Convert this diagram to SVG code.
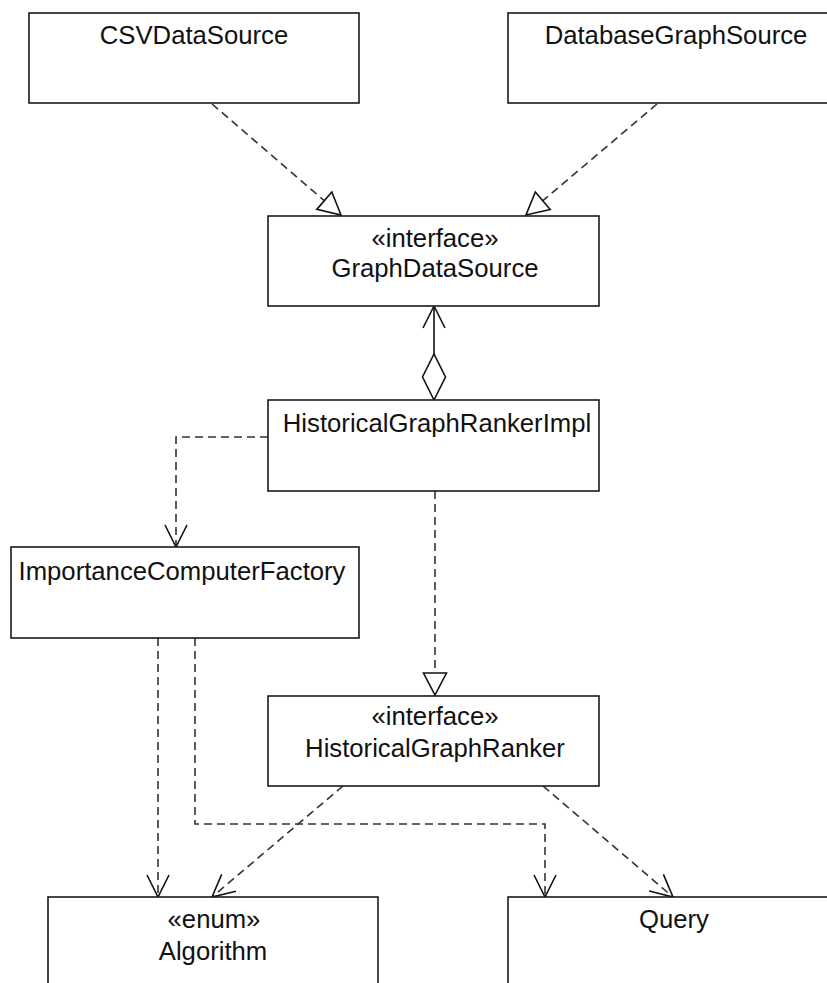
<svg xmlns="http://www.w3.org/2000/svg" width="827" height="983" viewBox="0 0 827 983">
  <style>
    .box { fill: #ffffff; stroke: #1a1a1a; stroke-width: 1.6; }
    .lbl { font-family: "Liberation Sans", Arial, sans-serif; font-size: 25.7px; fill: #111111; text-anchor: middle; }
    .dep { fill: none; stroke: #333333; stroke-width: 1.6; stroke-dasharray: 8 5; }
    .assoc { fill: none; stroke: #111111; stroke-width: 1.6; }
  </style>
  <defs>
    <!-- hollow triangle: realization -->
    <marker id="realize" markerUnits="userSpaceOnUse" markerWidth="26" markerHeight="28" viewBox="-2 -13 26 26" refX="22" refY="0" orient="auto">
      <path d="M0,-11.5 L22,0 L0,11.5 Z" fill="#ffffff" stroke="#111111" stroke-width="1.6"/>
    </marker>
    <!-- open arrowhead: dependency / navigability -->
    <marker id="open" markerUnits="userSpaceOnUse" markerWidth="26" markerHeight="28" viewBox="-2 -13 26 26" refX="22" refY="0" orient="auto">
      <path d="M0,-11 L22,0 L0,11" fill="none" stroke="#111111" stroke-width="1.6"/>
    </marker>
    <!-- hollow diamond: aggregation -->
    <marker id="diamond" markerUnits="userSpaceOnUse" markerWidth="50" markerHeight="28" viewBox="-2 -13 50 26" refX="0" refY="0" orient="auto">
      <path d="M0,0 L23,-11.5 L46,0 L23,11.5 Z" fill="#ffffff" stroke="#111111" stroke-width="1.6"/>
    </marker>
  </defs>

  <g id="connectors">
    <line class="dep" x1="212" y1="104" x2="341" y2="215" marker-end="url(#realize)"/>
    <line class="dep" x1="657" y1="104" x2="526" y2="215" marker-end="url(#realize)"/>
    <line class="assoc" x1="434" y1="400" x2="434" y2="306" marker-start="url(#diamond)" marker-end="url(#open)"/>
    <polyline class="dep" points="268,437 176,437 176,547" marker-end="url(#open)"/>
    <line class="dep" x1="435" y1="491" x2="435" y2="695" marker-end="url(#realize)"/>
    <line class="dep" x1="158" y1="638" x2="158" y2="897" marker-end="url(#open)"/>
    <polyline class="dep" points="195,638 195,824 545,824 545,897" marker-end="url(#open)"/>
    <line class="dep" x1="343" y1="786" x2="212" y2="897" marker-end="url(#open)"/>
    <line class="dep" x1="543" y1="786" x2="673" y2="897" marker-end="url(#open)"/>
  </g>

  <g id="CSVDataSource">
    <rect class="box" x="29" y="13" width="330" height="90"/>
    <text class="lbl" x="194" y="44">CSVDataSource</text>
  </g>
  <g id="DatabaseGraphSource">
    <rect class="box" x="508" y="13" width="335" height="90"/>
    <text class="lbl" x="676" y="44">DatabaseGraphSource</text>
  </g>
  <g id="GraphDataSource">
    <rect class="box" x="268" y="216" width="331" height="90"/>
    <text class="lbl" x="435" y="247">«interface»</text>
    <text class="lbl" x="435" y="277">GraphDataSource</text>
  </g>
  <g id="HistoricalGraphRankerImpl">
    <rect class="box" x="268" y="400" width="331" height="91"/>
    <text class="lbl" x="437" y="432">HistoricalGraphRankerImpl</text>
  </g>
  <g id="ImportanceComputerFactory">
    <rect class="box" x="11" y="547" width="348" height="91"/>
    <text class="lbl" x="182" y="580">ImportanceComputerFactory</text>
  </g>
  <g id="HistoricalGraphRanker">
    <rect class="box" x="268" y="696" width="331" height="90"/>
    <text class="lbl" x="435" y="725">«interface»</text>
    <text class="lbl" x="435" y="757">HistoricalGraphRanker</text>
  </g>
  <g id="Algorithm">
    <rect class="box" x="48" y="897" width="330" height="92"/>
    <text class="lbl" x="214" y="928">«enum»</text>
    <text class="lbl" x="213" y="960">Algorithm</text>
  </g>
  <g id="Query">
    <rect class="box" x="508" y="897" width="335" height="92"/>
    <text class="lbl" x="674" y="928">Query</text>
  </g>
</svg>
